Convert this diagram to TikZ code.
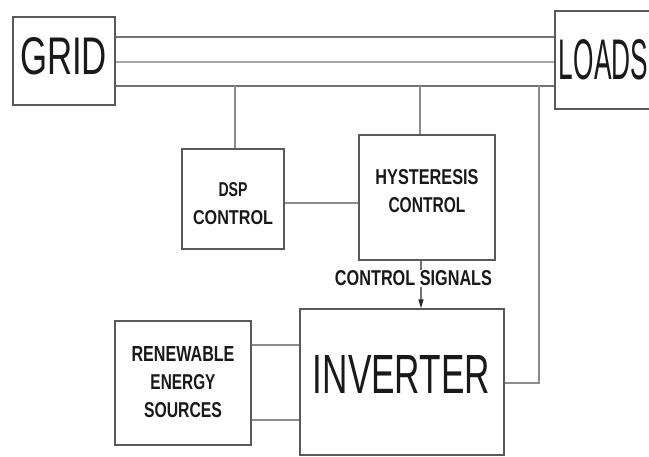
\documentclass[tikz,border=0pt]{standalone}
\usepackage{fontspec}
\setmainfont{Liberation Sans}
\usetikzlibrary{arrows.meta}
\newcommand{\tx}[3]{\resizebox{#1pt}{#2pt}{#3}}
\newcommand{\tb}[3]{\resizebox{#1pt}{#2pt}{\textbf{#3}}}
\begin{document}
\begin{tikzpicture}[x=1pt,y=-1pt,
  box/.style={draw=black!65, line width=1.4pt, inner sep=0pt},
  lab/.style={inner sep=0pt, align=center, text=black!90, font=\fontsize{10}{28}\selectfont},
  wire/.style={draw=black!45, line width=1.3pt},
  bus/.style={draw=black!55, line width=1.4pt},
  busmid/.style={draw=black!35, line width=1.8pt},
  sigarrow/.style={draw=black!55, line width=1.3pt, -{Triangle[width=5pt,length=9pt,color=black!85]}}]
\useasboundingbox (0,0) rectangle (649,457);
\clip (0,0) rectangle (649,457);
% boxes
\node[box, minimum width=102pt, minimum height=88pt] (grid) at (64,61) {};
\node[box, minimum width=120pt, minimum height=98pt] (loads) at (615,60) {};
\node[box, minimum width=102pt, minimum height=100pt] (dsp) at (233,199) {};
\node[box, minimum width=136pt, minimum height=125pt] (hyst) at (427,197.5) {};
\node[box, minimum width=204pt, minimum height=146pt] (inv) at (402,382) {};
\node[box, minimum width=136pt, minimum height=124pt] (ren) at (183,383) {};
% texts
\node[lab] (gridt) at (63.5,56.5) {\tx{87}{37}{GRID}};
\node[lab] (loadst) at (603.5,60) {\tx{89}{40}{LOADS}};
\node[lab] (dspt) at (233,203.5) {\tb{29}{14}{DSP}\\\tb{80}{14}{CONTROL}};
\node[lab] (hystt) at (427,191) {\tb{103}{15}{HYSTERESIS}\\\tb{77}{15}{CONTROL}};
\node[lab] (rent) at (183,382.5) {\tb{103}{15}{RENEWABLE}\\\tb{65}{15}{ENERGY}\\\tb{78}{15}{SOURCES}};
\node[lab] (invt) at (401.5,374) {\tx{177}{38}{INVERTER}};
% coordinates
\coordinate (y37) at (0,37);
\coordinate (y62) at (0,62);
\coordinate (d1) at (235,86);
\coordinate (d2) at (420,86);
\coordinate (d3) at (539,86);
\coordinate (c3) at (539,383);
\coordinate (y203) at (0,203);
\coordinate (ax) at (421,0);
\coordinate (y345) at (0,345);
\coordinate (y420) at (0,420);
% bus
\draw[bus] (grid.east |- y37) -- (loads.west |- y37);
\draw[busmid] (grid.east |- y62) -- (loads.west |- y62);
\draw[bus] (grid.east |- d1) -- (loads.west |- d1);
% drops
\draw[wire] (d1) -- (d1 |- dsp.north);
\draw[wire] (d2) -- (d2 |- hyst.north);
\draw[wire] (d3) -- (c3) -- (inv.east |- c3);
\draw[wire] (dsp.east |- y203) -- (hyst.west |- y203);
\draw[wire] (ren.east |- y345) -- (inv.west |- y345);
\draw[wire] (ren.east |- y420) -- (inv.west |- y420);
% control signals
\draw[sigarrow] (hyst.south -| ax) -- (inv.north -| ax);
\node[lab, fill=white, inner sep=1pt] (sig) at (413.5,278.5) {\tb{157}{15}{CONTROL SIGNALS}};
\end{tikzpicture}
\end{document}
